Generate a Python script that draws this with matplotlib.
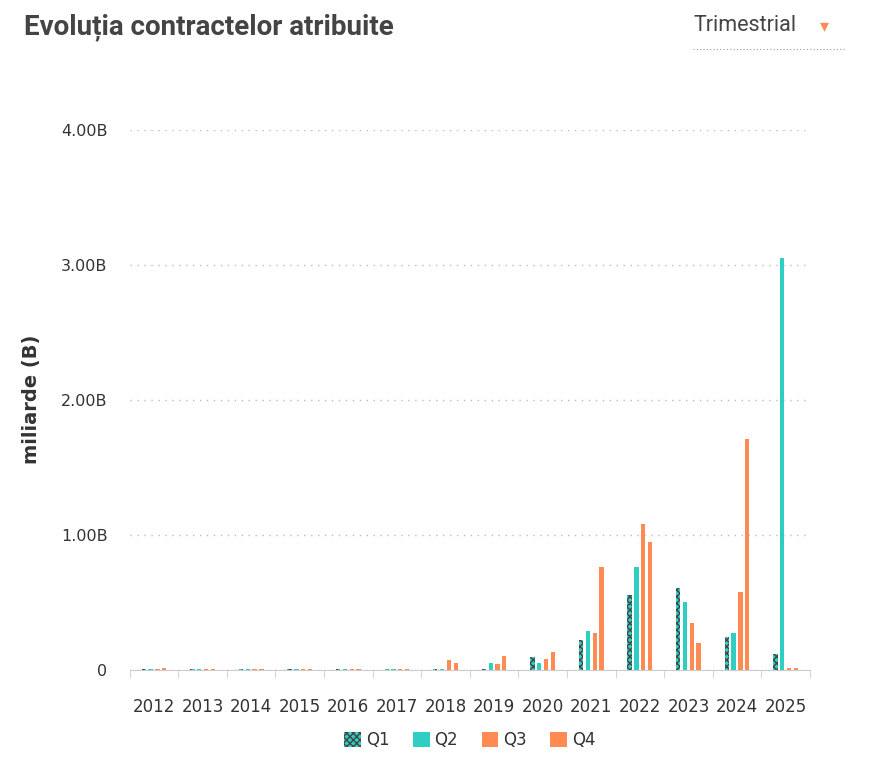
import numpy as np
import matplotlib.pyplot as plt

years = [str(y) for y in range(2012, 2026)]
q1 = [0.01, 0.008, 0.008, 0.008, 0.008, 0.008, 0.005, 0.005, 0.096, 0.22, 0.555, 0.61, 0.245, 0.12]
q2 = [0.01, 0.01, 0.01, 0.01, 0.008, 0.008, 0.005, 0.05, 0.054, 0.29, 0.765, 0.50, 0.27, 3.05]
q3 = [0.01, 0.01, 0.01, 0.01, 0.01, 0.01, 0.074, 0.045, 0.08, 0.27, 1.08, 0.35, 0.575, 0.012]
q4 = [0.012, 0.01, 0.01, 0.01, 0.01, 0.01, 0.05, 0.10, 0.135, 0.76, 0.95, 0.20, 1.71, 0.012]

teal = "#2ecfc2"
orange = "#ff8a52"
dark = "#444444"

fig = plt.figure(figsize=(8.7, 7.63), dpi=100)
ax = fig.add_axes([0.149, 0.122, 0.782, 0.708])

x = np.arange(len(years))
w = 0.09
offs = [-0.21, -0.07, 0.07, 0.21]
series = [("Q1", q1, teal, "xxxxx"), ("Q2", q2, teal, None),
          ("Q3", q3, orange, None), ("Q4", q4, orange, None)]
for (name, vals, col, hatch), o in zip(series, offs):
    ax.bar(x + o, vals, width=w, color=col, label=name,
           hatch=hatch, edgecolor=dark if hatch else col, linewidth=0)

ax.set_xlim(-0.5, len(years) - 0.5)
ax.set_ylim(0, 4.0)
ax.set_yticks([0, 1, 2, 3, 4])
ax.set_yticklabels(["0", "1.00B", "2.00B", "3.00B", "4.00B"])
ax.set_xticks(x)
ax.set_xticklabels(years)
ax.tick_params(axis="y", length=0, pad=16, labelsize=11.5, labelcolor="#333333")
ax.set_xticks(np.arange(len(years) + 1) - 0.5, minor=True)
ax.tick_params(axis="x", which="minor", length=6, color="#cccccc")
ax.tick_params(axis="x", which="major", length=0, pad=20, labelsize=12, labelcolor="#333333")
ax.grid(axis="y", linestyle=(0, (1, 4)), color="#bbbbbb", linewidth=1)
ax.set_axisbelow(True)
for s in ["top", "right", "left"]:
    ax.spines[s].set_visible(False)
ax.spines["bottom"].set_color("#cccccc")
ax.set_ylabel("miliarde (B)", fontsize=14, fontweight="bold", color="#333333", labelpad=14)

ax.legend(loc="upper center", bbox_to_anchor=(0.5, -0.085), ncol=4, frameon=False,
          fontsize=12, handlelength=1.0, handleheight=1.0, columnspacing=1.4,
          handletextpad=0.3, labelcolor="#333333")

fig.text(0.028, 0.965, "Evoluția contractelor atribuite", fontsize=20, fontweight="bold",
         color="#444444", va="center", family="Roboto")
fig.text(0.797, 0.966, "Trimestrial", fontsize=15.5, color="#444444", va="center", family="Roboto")
fig.text(0.943, 0.966, "▾", fontsize=13, color=orange, va="center")
fig.add_artist(plt.Line2D([0.797, 0.972], [0.936, 0.936], color="#999999",
                          linestyle=(0, (1, 2)), linewidth=0.8))

fig.savefig("out.png", dpi=100)
